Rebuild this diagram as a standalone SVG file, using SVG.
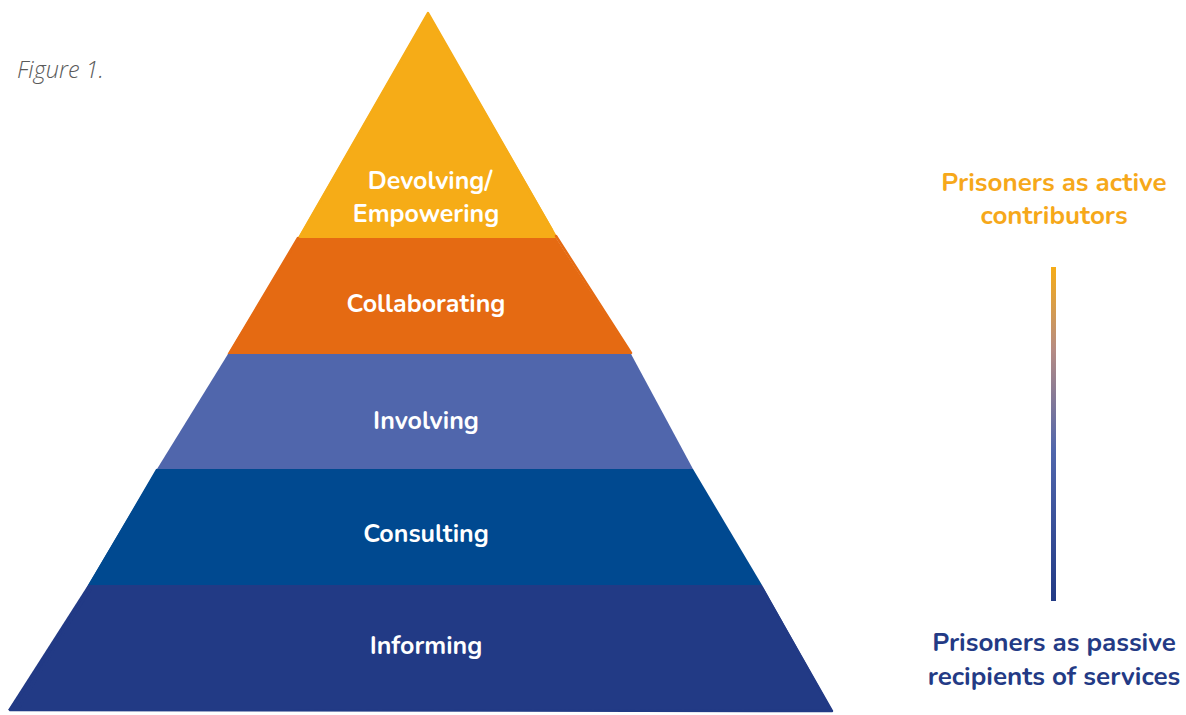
<svg xmlns="http://www.w3.org/2000/svg" width="1186" height="715" viewBox="0 0 1186 715">
<style>
.lbl{font-family:"Nunito","Open Sans","Liberation Sans",sans-serif;font-weight:700;font-size:25px;fill:#fff;text-anchor:middle}
.side{font-family:"Nunito","Open Sans","Liberation Sans",sans-serif;font-weight:700;font-size:26px;text-anchor:middle}
.sk{fill:none;stroke-width:2.5;stroke-linecap:round;stroke-linejoin:round}
</style>
<defs>
<linearGradient id="bar" x1="0" y1="0" x2="0" y2="1">
<stop offset="0" stop-color="#F6AC17"/>
<stop offset="0.25" stop-color="#B58B84"/>
<stop offset="0.55" stop-color="#5066AC"/>
<stop offset="1" stop-color="#223A85"/>
</linearGradient>
</defs>
<rect width="1186" height="715" fill="#fff"/>
<text x="17" y="78" font-family="'Open Sans','Liberation Sans',sans-serif" font-style="italic" font-weight="300" font-size="23.5" fill="#5a5a5a">Figure 1.</text>
<g id="layer-devolving">
<polygon points="428,12 298,238 556,238" fill="#F6AC17"/>
<polyline class="sk" stroke="#F6AC17" points="299,238 428,13 556,237"/>
<polyline class="sk" stroke="#F6AC17" points="428,15 552,230"/>
<text class="lbl" x="430" y="189" font-size="24.5">Devolving/</text>
<text class="lbl" x="426" y="222" font-size="24.5">Empowering</text>
</g>
<g id="layer-collaborating">
<polygon points="298,238 556,238 631,354 228,354" fill="#E56A12"/>
<polyline class="sk" stroke="#E56A12" points="298,238 229,354"/>
<polyline class="sk" stroke="#E56A12" points="556,236 631,353"/>
<text class="lbl" x="426" y="312">Collaborating</text>
</g>
<g id="layer-involving">
<polygon points="228,354 631,354 693,469 157,469" fill="#5066AC"/>
<text class="lbl" x="426" y="429">Involving</text>
</g>
<g id="layer-consulting">
<polygon points="157,469 693,469 762,585 88,585" fill="#004990"/>
<polyline class="sk" stroke="#004990" points="157,470 88,588"/>
<polyline class="sk" stroke="#004990" points="690,470 760,587"/>
<text class="lbl" x="426" y="542">Consulting</text>
</g>
<g id="layer-informing">
<polygon points="88,585 762,585 832,710 8,710" fill="#223A85"/>
<polyline class="sk" stroke="#223A85" points="90,590 10,710 832,711 762,588"/>
<polyline class="sk" stroke="#223A85" points="86,595 20,706"/>
<text class="lbl" x="426" y="654">Informing</text>
</g>
<g id="scale">
<rect x="1051" y="267" width="5" height="334" fill="url(#bar)"/>
<text class="side" x="1054" y="191" fill="#F6A81A">Prisoners as active</text>
<text class="side" x="1054" y="224" fill="#F6A81A">contributors</text>
<text class="side" x="1054" y="651" fill="#233A85">Prisoners as passive</text>
<text class="side" x="1054" y="685" fill="#233A85">recipients of services</text>
</g>
</svg>
